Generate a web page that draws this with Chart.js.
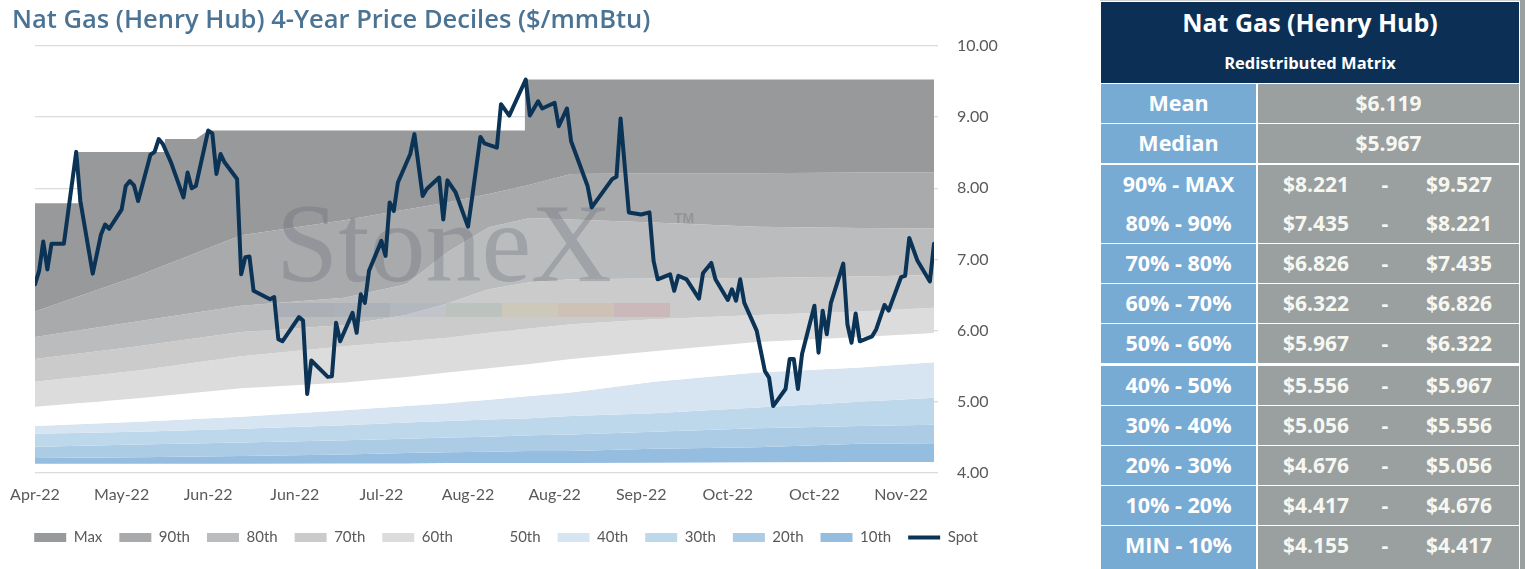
<!DOCTYPE html>
<html>
<head>
<meta charset="utf-8">
<script src="https://cdn.jsdelivr.net/npm/chart.js@4.4.1/dist/chart.umd.min.js"></script>
<style>
  html, body { margin:0; padding:0; background:#ffffff; width:1525px; height:569px; overflow:hidden; }
  #chartBox { position:absolute; left:0; top:0; width:1000px; height:569px; }
  #tbl { position:absolute; left:1100px; top:0; width:425px; height:569px; background:#ffffff; font-family:"Open Sans", sans-serif; font-weight:700; color:#ffffff; }
  #tbl .topline { position:absolute; left:0; top:0; width:425px; height:1px; background:#d0d0d0; }
  #tbl .edge { position:absolute; left:420px; top:0; width:5px; height:569px; background:#9aa0a0; }
  #tbl .head { position:absolute; left:1px; top:2px; width:418px; height:81px; background:#0b2f55; text-align:center; }
  #tbl .h1 { position:absolute; left:0; width:418px; top:4px; font-size:25px; line-height:32px; }
  #tbl .h2 { position:absolute; left:0; width:418px; top:49px; font-size:16.5px; line-height:24px; }
  #tbl .lab { position:absolute; left:1px; width:155px; background:#78abd4; text-align:center; font-size:21.5px; }
  #tbl .val { position:absolute; left:158px; width:261px; background:#99a09f; font-size:21px; color:#f7f7f2; }
  #tbl .val span { position:absolute; top:0; text-align:center; }
</style>
</head>
<body>
<div id="chartBox"><canvas id="c"></canvas></div>
<div id="tbl"></div>
<script>
// ---------------- data ----------------
const xTickDays   = [0, 21, 42, 63, 84, 105, 126, 147, 168, 189, 210];
const xTickLabels = ['Apr-22','May-22','Jun-22','Jun-22','Jul-22','Aug-22','Aug-22','Sep-22','Oct-22','Oct-22','Nov-22'];

const spotDays = [0,1,2,3,4,7,10,11,14,16,17,18,21,22,23,24,25,28,29,30,31,33,36,37,38,39,42,43,44,45,46,49,50,51,52,53,57,58,59,60,64,65,66,67,71,72,73,74,77,78,79,80,81,84,85,86,87,88,91,92,94,95,98,99,100,102,105,106,108,109,112,113,115,119,120,122,123,126,127,129,130,134,135,140,141,142,144,147,149,150,151,154,155,156,158,161,162,164,165,168,169,170,171,172,175,177,178,179,182,183,184,185,186,189,190,191,192,193,196,197,198,199,200,203,204,206,207,210,211,212,214,217,218];
const spotPrices = [6.65,6.84,7.25,6.86,7.22,7.22,8.51,7.82,6.80,7.35,7.49,7.43,7.70,8.03,8.10,8.04,7.82,8.47,8.51,8.69,8.62,8.36,7.87,8.22,8.00,8.03,8.81,8.77,8.20,8.48,8.36,8.13,6.79,7.03,7.04,6.56,6.44,6.47,5.88,5.85,6.19,6.14,5.11,5.58,5.35,5.36,6.11,5.85,6.25,5.97,6.51,6.39,6.84,7.26,7.05,7.80,7.68,8.08,8.48,8.76,7.89,7.99,8.15,7.56,8.11,7.94,7.46,7.87,8.72,8.63,8.57,9.18,9.02,9.527,9.02,9.22,9.12,9.20,8.87,9.12,8.66,8.03,7.73,8.13,8.16,8.98,7.66,7.63,7.66,6.98,6.72,6.79,6.56,6.77,6.72,6.45,6.81,6.95,6.72,6.43,6.58,6.42,6.72,6.39,6.00,5.43,5.34,4.94,5.18,5.60,5.60,5.18,5.67,6.35,5.69,6.28,5.95,6.39,6.94,6.09,5.83,6.24,5.85,5.92,6.02,6.36,6.28,6.75,6.77,7.30,6.98,6.69,7.22];

const maxDays   = [0, 10.5, 10.5, 31.5, 31.5, 39, 42, 118.8, 118.8, 218];
const maxValues = [7.79, 7.79, 8.51, 8.51, 8.69, 8.69, 8.81, 8.81, 9.527, 9.527];

const bandDays = [0, 25, 50, 75, 90, 100, 110, 120, 130, 150, 175, 200, 218];
const p90 = [6.27, 6.77, 7.34, 7.55, 7.70, 7.80, 7.92, 8.05, 8.20, 8.21, 8.21, 8.22, 8.221];
const p80 = [5.91, 6.13, 6.35, 6.46, 6.65, 7.10, 7.45, 7.58, 7.56, 7.52, 7.46, 7.44, 7.435];
const p70 = [5.60, 5.78, 5.98, 6.08, 6.22, 6.38, 6.58, 6.68, 6.72, 6.73, 6.74, 6.76, 6.78];
const p60 = [5.28, 5.44, 5.64, 5.78, 5.85, 5.90, 5.97, 6.03, 6.09, 6.16, 6.22, 6.27, 6.322];
const p50 = [4.93, 5.05, 5.19, 5.27, 5.35, 5.41, 5.47, 5.53, 5.60, 5.71, 5.84, 5.91, 5.967];
const p40 = [4.66, 4.72, 4.79, 4.88, 4.94, 4.98, 5.03, 5.08, 5.13, 5.28, 5.41, 5.48, 5.556];
const p30 = [4.55, 4.58, 4.62, 4.67, 4.71, 4.73, 4.75, 4.77, 4.80, 4.84, 4.92, 5.00, 5.056];
const p20 = [4.37, 4.40, 4.43, 4.46, 4.48, 4.50, 4.51, 4.53, 4.54, 4.58, 4.63, 4.66, 4.676];
const p10 = [4.21, 4.22, 4.24, 4.26, 4.28, 4.29, 4.30, 4.31, 4.31, 4.34, 4.36, 4.41, 4.417];
const pMin = [4.13, 4.13, 4.13, 4.135, 4.135, 4.14, 4.14, 4.14, 4.14, 4.145, 4.15, 4.155, 4.155];

const yTicks = [4, 5, 6, 7, 8, 9, 10];

// table
const tableTitle = 'Nat Gas (Henry Hub)';
const tableSubtitle = 'Redistributed Matrix';
const statLabels = ['Mean', 'Median'];
const statValues = ['$6.119', '$5.967'];
const rangeLabels = ['90% - MAX','80% - 90%','70% - 80%','60% - 70%','50% - 60%','40% - 50%','30% - 40%','20% - 30%','10% - 20%','MIN - 10%'];
const rangeLow  = ['$8.221','$7.435','$6.826','$6.322','$5.967','$5.556','$5.056','$4.676','$4.417','$4.155'];
const rangeHigh = ['$9.527','$8.221','$7.435','$6.826','$6.322','$5.967','$5.556','$5.056','$4.676','$4.417'];

// ---------------- chart ----------------
const pts = (xs, ys) => xs.map((x, i) => ({ x: x, y: ys[i] }));

function band(label, color, xs, ys) {
  return { label, data: pts(xs, ys), backgroundColor: color, borderColor: color, borderWidth: 0,
           pointRadius: 0, pointHoverRadius: 0, pointStyle: 'rect', fill: '+1', tension: 0, order: 1 };
}

const datasets = [
  band('Max',  '#98999b', maxDays, maxValues),
  band('90th', '#a9aaac', bandDays, p90),
  band('80th', '#bbbcbe', bandDays, p80),
  band('70th', '#cbcbcc', bandDays, p70),
  band('60th', '#dcdcdc', bandDays, p60),
  band('50th', '#ffffff', bandDays, p50),
  band('40th', '#d7e5f2', bandDays, p40),
  band('30th', '#bdd7eb', bandDays, p30),
  band('20th', '#accce5', bandDays, p20),
  band('10th', '#95bde0', bandDays, p10),
  { label: 'Min', data: pts(bandDays, pMin), borderWidth: 0, borderColor: 'rgba(0,0,0,0)',
    backgroundColor: 'rgba(0,0,0,0)', pointRadius: 0, fill: false, order: 1 },
  { label: 'Spot', data: pts(spotDays, spotPrices), borderColor: '#0b3356', backgroundColor: '#0b3356',
    borderWidth: 4, pointRadius: 0, pointHoverRadius: 0, pointStyle: 'line', borderCapStyle: 'round',
    borderJoinStyle: 'round', fill: false, tension: 0, order: -1 }
];

const watermark = {
  id: 'watermark',
  beforeDatasetDraw(chart, args) {
    if (chart.data.datasets[args.index].label !== 'Spot') return;
    const ctx = chart.ctx;
    ctx.save();
    const segColors = ['rgba(40,70,110,0.10)','rgba(50,100,150,0.10)','rgba(120,160,200,0.12)',
                       'rgba(60,130,80,0.10)','rgba(220,190,80,0.14)','rgba(230,140,60,0.14)','rgba(200,70,80,0.14)'];
    segColors.forEach((c, i) => { ctx.fillStyle = c; ctx.fillRect(278 + i * 56, 303, 56, 14); });
    ctx.fillStyle = 'rgba(95,103,114,0.30)';
    ctx.font = '112px "Liberation Serif", serif';
    ctx.textBaseline = 'alphabetic';
    ctx.textAlign = 'left';
    ctx.fillText('StoneX', 276, 281);
    ctx.font = 'bold 14px "Liberation Sans", sans-serif';
    ctx.fillStyle = 'rgba(110,110,110,0.35)';
    ctx.fillText('TM', 674, 223);
    ctx.restore();
  }
};

new Chart(document.getElementById('c'), {
  type: 'line',
  data: { datasets },
  plugins: [watermark],
  options: {
    responsive: true,
    maintainAspectRatio: false,
    animation: false,
    events: [],
    layout: { padding: { left: 12, right: 0, top: 0, bottom: 14 } },
    plugins: {
      title: { display: true, text: 'Nat Gas (Henry Hub) 4-Year Price Deciles ($/mmBtu)', align: 'start',
               color: '#4b7394', font: { family: 'Open Sans', size: 25.5, weight: '600' }, padding: { top: 5, bottom: 10.2 } },
      legend: { position: 'bottom',
        labels: { usePointStyle: true, pointStyleWidth: 32, boxHeight: 9, padding: 17, color: '#595959',
                  font: { family: 'Lato', size: 15 },
                  sort: (a, b) => a.datasetIndex - b.datasetIndex,
                  filter: (item) => item.text !== 'Min' } },
      tooltip: { enabled: false }
    },
    scales: {
      x: { type: 'linear', min: 0, max: 218,
           afterBuildTicks: (s) => { s.ticks = xTickDays.map(v => ({ value: v })); },
           afterFit: (s) => { s.height = 40; s.paddingLeft = 35; },
           ticks: { autoSkip: false, maxRotation: 0, padding: 12, color: '#595959', font: { family: 'Lato', size: 16 },
                    callback: (v) => xTickLabels[xTickDays.indexOf(v)] },
           grid: { display: false, drawTicks: false }, border: { display: false } },
      y: { position: 'right', min: 4, max: 10, z: 1,
           afterBuildTicks: (s) => { s.ticks = yTicks.map(v => ({ value: v })); },
           afterFit: (s) => { s.width = 66; },
           ticks: { padding: 19, color: '#595959', font: { family: 'Lato', size: 16 }, callback: (v) => v.toFixed(2) },
           grid: { color: 'rgba(0,0,0,0.14)', lineWidth: 1.3, tickLength: 4 }, border: { display: false } }
    }
  }
});

// ---------------- table ----------------
const tbl = document.getElementById('tbl');
let html = '<div class="topline"></div><div class="edge"></div>';
html += '<div class="head"><div class="h1">' + tableTitle + '</div><div class="h2">' + tableSubtitle + '</div></div>';
statLabels.forEach((l, i) => {
  const top = 84 + i * 40, h = 38.5;
  html += '<div class="lab" style="top:' + top + 'px;height:' + h + 'px;line-height:' + h + 'px">' + l + '</div>';
  html += '<div class="val" style="top:' + top + 'px;height:' + h + 'px;line-height:' + h + 'px;text-align:center">' + statValues[i] + '</div>';
});
rangeLabels.forEach((l, i) => {
  const top = 165 + i * 40 + (i >= 5 ? 1 : 0) - (i >= 1 && i < 5 ? 0.7 : 0), h = 38.5;
  html += '<div class="lab" style="top:' + top + 'px;height:' + h + 'px;line-height:' + h + 'px">' + l + '</div>';
  html += '<div class="val" style="top:' + top + 'px;height:' + h + 'px;line-height:' + h + 'px">' +
          '<span style="left:6px;width:104px">' + rangeLow[i] + '</span>' +
          '<span style="left:117px;width:20px">-</span>' +
          '<span style="left:149px;width:104px">' + rangeHigh[i] + '</span></div>';
});
html += '<div class="lab" style="top:565px;height:10px"></div><div class="val" style="top:565px;height:10px"></div>';
tbl.innerHTML = html;
</script>
</body>
</html>
